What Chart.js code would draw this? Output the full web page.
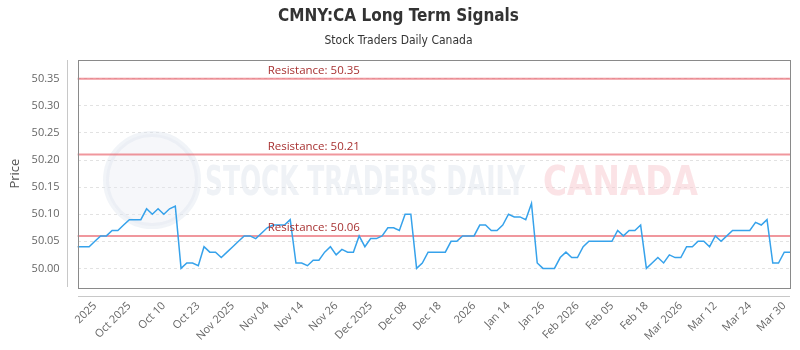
<!DOCTYPE html>
<html>
<head>
<meta charset="utf-8">
<script src="https://cdn.jsdelivr.net/npm/chart.js@4.4.0/dist/chart.umd.min.js"></script>
<style>
  html, body { margin: 0; padding: 0; background: #fff; }
  #wrap { width: 800px; height: 350px; }
</style>
</head>
<body>
<div id="wrap"><canvas id="signalChart"></canvas></div>
<script>
// === Data ===
const prices = [
  50.04, 50.04, 50.04, 50.05, 50.06, 50.06, 50.07, 50.07, 50.08, 50.09, 50.09, 50.09, 50.11, 50.10, 50.11, 50.10, 50.11, 50.115,
  50.00, 50.01, 50.01, 50.005, 50.04, 50.03, 50.03,
  50.02, 50.03, 50.04, 50.05, 50.06, 50.06, 50.055, 50.065, 50.075, 50.08, 50.08, 50.08, 50.09,
  50.01, 50.01, 50.005, 50.015, 50.015, 50.03, 50.04, 50.025, 50.035, 50.03, 50.03, 50.06, 50.04,
  50.055, 50.055, 50.06, 50.075, 50.075, 50.07, 50.10, 50.10,
  50.00, 50.01, 50.03, 50.03, 50.03, 50.03, 50.05, 50.05, 50.06, 50.06, 50.06, 50.08, 50.08, 50.07, 50.07, 50.08, 50.10,
  50.095, 50.095, 50.09, 50.12, 50.01, 50.00, 50.00, 50.00, 50.02, 50.03, 50.02, 50.02, 50.04, 50.05, 50.05, 50.05, 50.05, 50.05, 50.07, 50.06, 50.07, 50.07, 50.08,
  50.00, 50.01, 50.02, 50.01, 50.025, 50.02, 50.02, 50.04, 50.04, 50.05, 50.05, 50.04, 50.06, 50.05, 50.06, 50.07, 50.07, 50.07, 50.07, 50.085, 50.08, 50.09, 50.01, 50.01, 50.03, 50.03
];

// shown every 6th trading day, starting at the 4th point
const tickLabels = [
  '2025', 'Oct 2025', 'Oct 10', 'Oct 23', 'Nov 2025', 'Nov 04', 'Nov 14', 'Nov 26', 'Dec 2025', 'Dec 08', 'Dec 18',
  '2026', 'Jan 14', 'Jan 26', 'Feb 2026', 'Feb 05', 'Feb 18', 'Mar 2026', 'Mar 12', 'Mar 24', 'Mar 30'
];
const tickStart = 3;
const tickEvery = 6;

const resistanceLevels = [50.35, 50.21, 50.06];
const yTicks = [50.00, 50.05, 50.10, 50.15, 50.20, 50.25, 50.30, 50.35];

const labels = prices.map((_, i) =>
  i >= tickStart && (i - tickStart) % tickEvery === 0 ? tickLabels[(i - tickStart) / tickEvery] : '');

const FONT = "'Open Sans', sans-serif";
const NARROW = "'Liberation Sans Narrow', 'DejaVu Sans Condensed', Roboto, sans-serif";

// === Frame, watermark, resistance labels ===
const decor = {
  id: 'decor',
  beforeDatasetsDraw(chart) {
    const ctx = chart.ctx;
    ctx.save();
    // logo
    ctx.beginPath();
    ctx.arc(152, 180, 46, 0, Math.PI * 2);
    ctx.fillStyle = 'rgba(228,233,241,0.35)';
    ctx.fill();
    ctx.lineWidth = 6;
    ctx.strokeStyle = 'rgba(220,227,238,0.4)';
    ctx.stroke();
    ctx.font = 'bold 40px ' + NARROW;
    ctx.textBaseline = 'alphabetic';
    ctx.textAlign = 'left';
    ctx.fillStyle = 'rgba(215,222,232,0.4)';
    ctx.fillText('STOCK TRADERS DAILY', 205, 195, 320);
    ctx.fillStyle = 'rgba(248,200,205,0.5)';
    ctx.fillText('CANADA', 543, 195, 155);
    ctx.restore();
  },
  afterDatasetsDraw(chart) {
    const ctx = chart.ctx;
    const y = chart.scales.y;
    const area = chart.chartArea;
    ctx.save();
    ctx.font = '11.5px ' + FONT;
    ctx.fillStyle = '#a83232';
    ctx.textAlign = 'left';
    ctx.textBaseline = 'bottom';
    resistanceLevels.forEach(level => {
      ctx.fillText('Resistance: ' + level.toFixed(2), area.left + 190, y.getPixelForValue(level) - 2);
    });
    ctx.restore();
  },
  afterDraw(chart) {
    const ctx = chart.ctx;
    const a = chart.chartArea;
    ctx.save();
    ctx.lineWidth = 1;
    ctx.strokeStyle = '#8a8a8a';
    ctx.strokeRect(Math.round(a.left) + 0.5, Math.round(a.top) + 0.5,
      Math.round(a.right - a.left), Math.round(a.bottom - a.top));
    ctx.strokeStyle = '#c8c8c8';
    ctx.beginPath();
    ctx.moveTo(Math.round(a.left) - 10.5, Math.round(a.top));
    ctx.lineTo(Math.round(a.left) - 10.5, Math.round(a.bottom));
    ctx.moveTo(Math.round(a.left), Math.round(a.bottom) + 9.5);
    ctx.lineTo(Math.round(a.right), Math.round(a.bottom) + 9.5);
    ctx.stroke();
    ctx.restore();
  }
};

// === Chart ===
new Chart(document.getElementById('signalChart'), {
  type: 'line',
  data: {
    labels: labels,
    datasets: [
      {
        label: 'Price',
        data: prices,
        borderColor: '#36a2eb',
        borderWidth: 1.5,
        pointRadius: 0,
        tension: 0,
        fill: false
      },
      ...resistanceLevels.map(level => ({
        label: 'Resistance ' + level,
        data: prices.map(() => level),
        borderColor: 'rgba(232,95,105,0.65)',
        borderWidth: 2,
        pointRadius: 0,
        fill: false
      }))
    ]
  },
  options: {
    responsive: true,
    maintainAspectRatio: false,
    animation: false,
    layout: { padding: { left: 7, right: 10, top: 0, bottom: 4 } },
    plugins: {
      legend: { display: false },
      tooltip: { enabled: false },
      title: {
        display: true,
        text: 'CMNY:CA Long Term Signals',
        color: '#333',
        font: { family: NARROW, size: 17, weight: 'bold' },
        padding: { top: 6, bottom: 7 }
      },
      subtitle: {
        display: true,
        text: 'Stock Traders Daily Canada',
        color: '#333',
        font: { family: NARROW, size: 12 },
        padding: { top: 0, bottom: 12 }
      }
    },
    scales: {
      x: {
        grid: { display: false, drawTicks: true, tickLength: 9 },
        border: { display: false },
        ticks: {
          autoSkip: false,
          minRotation: 45,
          maxRotation: 45,
          padding: 3,
          color: '#666',
          font: { family: FONT, size: 11 },
          callback: (v, i) => labels[i] || null
        }
      },
      y: {
        min: 49.965,
        max: 50.385,
        afterBuildTicks: scale => { scale.ticks = yTicks.map(v => ({ value: v })); },
        grid: { color: '#e2e2e2', drawTicks: true, tickLength: 10, tickColor: 'rgba(0,0,0,0)' },
        border: { display: false, dash: [3, 3] },
        ticks: {
          padding: 8,
          color: '#666',
          font: { family: FONT, size: 11 },
          callback: v => Number(v).toFixed(2)
        },
        title: {
          display: true,
          text: 'Price',
          color: '#555',
          font: { family: FONT, size: 13 },
          padding: { top: 0, bottom: 1 }
        }
      }
    }
  },
  plugins: [decor]
});
</script>
</body>
</html>
